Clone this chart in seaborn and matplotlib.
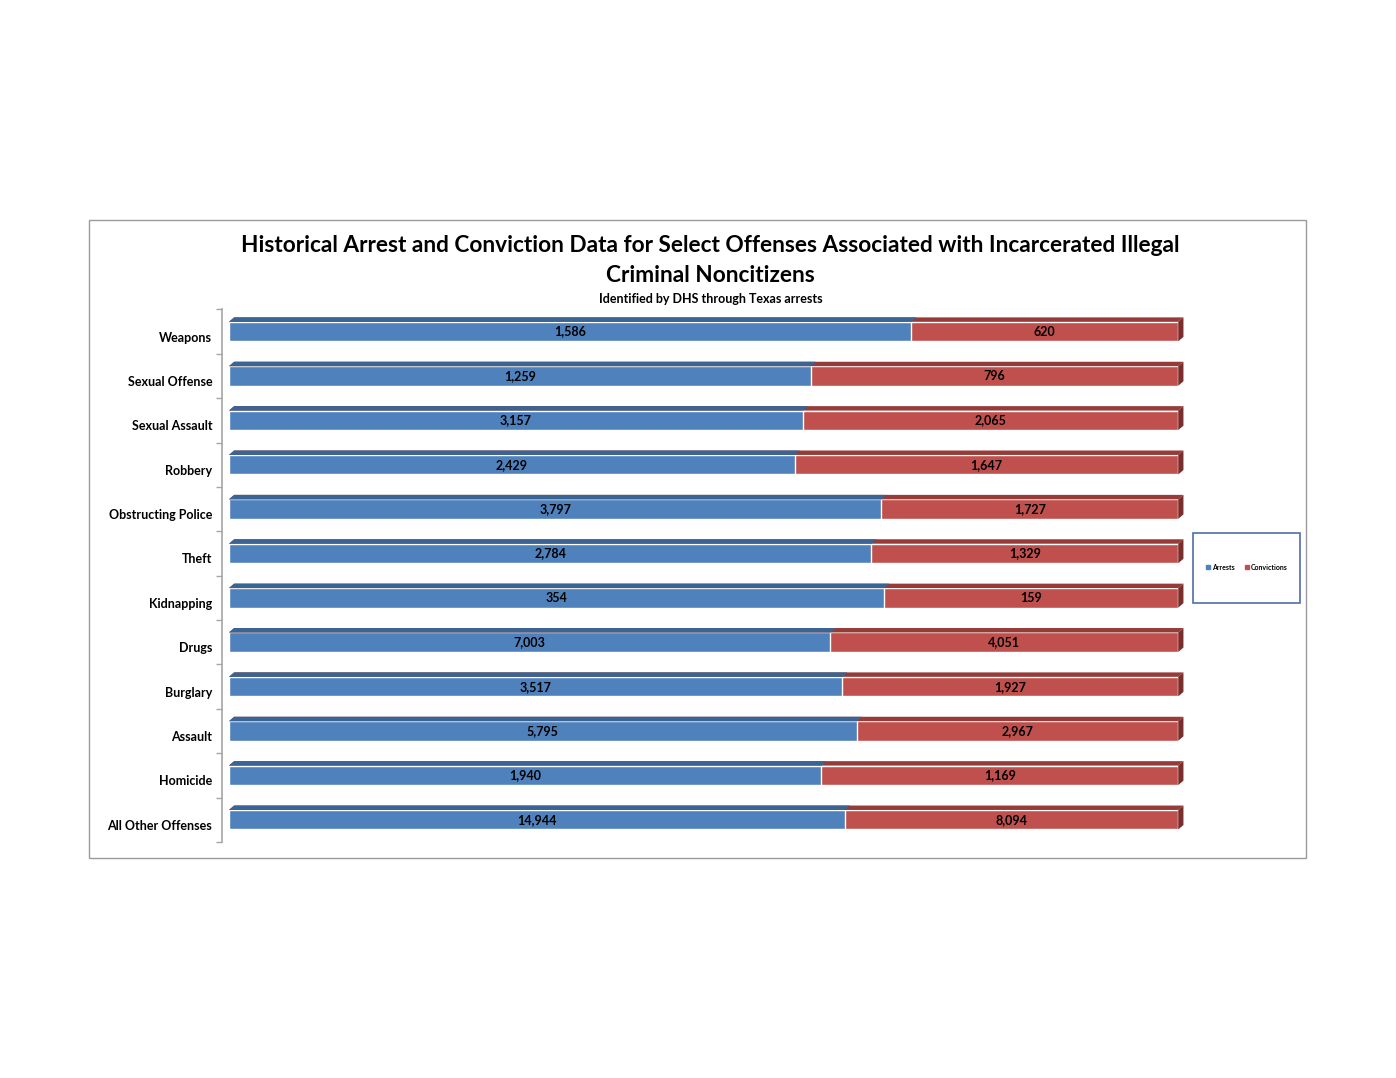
import matplotlib
matplotlib.use("Agg")
import matplotlib.pyplot as plt
import pandas as pd
import seaborn as sns
from matplotlib.patches import Polygon, Rectangle
from matplotlib.ticker import FixedLocator

# Data
offenses = ["Weapons", "Sexual Offense", "Sexual Assault", "Robbery", "Obstructing Police",
            "Theft", "Kidnapping", "Drugs", "Burglary", "Assault", "Homicide", "All Other Offenses"]
arrests = [1586, 1259, 3157, 2429, 3797, 2784, 354, 7003, 3517, 5795, 1940, 14944]
convictions = [620, 796, 2065, 1647, 1727, 1329, 159, 4051, 1927, 2967, 1169, 8094]

BLUE = "#4F81BD"
RED = "#C0504D"
BLUE_TOP = "#3A6494"
RED_TOP = "#963B38"
RED_SIDE = "#7A2E2C"

sns.set_theme(style="white")
plt.rcParams["font.family"] = ["Lato", "DejaVu Sans"]
plt.rcParams["text.color"] = "black"
plt.rcParams["ytick.color"] = "black"
plt.rcParams["font.weight"] = "bold"

df = pd.DataFrame({"Offense": offenses, "Arrests": arrests, "Convictions": convictions})
df["Total"] = df["Arrests"] + df["Convictions"]
df["ArrestPct"] = df["Arrests"] / df["Total"] * 100
df["Full"] = 100.0

fig = plt.figure(figsize=(13.96, 10.78), dpi=100, facecolor="white")
ax = fig.add_axes([0.164, 0.219, 0.68, 0.494])

bar_w = 0.44
sns.barplot(data=df, y="Offense", x="Full", order=offenses, color=RED, width=bar_w,
            saturation=1, ax=ax, orient="h")
sns.barplot(data=df, y="Offense", x="ArrestPct", order=offenses, color=BLUE, width=bar_w,
            saturation=1, ax=ax, orient="h")

ax.set_xlim(0, 100)
ax.set_ylim(len(offenses) - 0.5, -0.5)

# fake 3D top face and end cap, built from the bar patches
dx, dy = 0.55, 0.1
red_patches = ax.containers[0].patches
blue_patches = ax.containers[1].patches
for patches, top in ((red_patches, RED_TOP), (blue_patches, BLUE_TOP)):
    for p in patches:
        x0, y0, w, h = p.get_x(), p.get_y(), p.get_width(), p.get_height()
        poly = Polygon([(x0, y0), (x0 + w, y0), (x0 + w + dx, y0 - dy), (x0 + dx, y0 - dy)],
                       closed=True, facecolor=top, edgecolor="none", clip_on=False, zorder=3)
        ax.add_patch(poly)
for p in red_patches:
    x0, y0, w, h = p.get_x(), p.get_y(), p.get_width(), p.get_height()
    side = Polygon([(x0 + w, y0), (x0 + w + dx, y0 - dy), (x0 + w + dx, y0 + h - dy), (x0 + w, y0 + h)],
                   closed=True, facecolor=RED_SIDE, edgecolor="none", clip_on=False, zorder=3)
    ax.add_patch(side)

# data labels centred in each segment
for i, row in df.iterrows():
    ax.text(row["ArrestPct"] / 2, i, f"{row['Arrests']:,}", ha="center", va="center",
            fontsize=9, fontweight="bold", color="black", zorder=4)
    ax.text((row["ArrestPct"] + 100) / 2, i, f"{row['Convictions']:,}", ha="center", va="center",
            fontsize=9, fontweight="bold", color="black", zorder=4)

ax.set_xlabel("")
ax.set_ylabel("")
ax.set_xticks([])
ax.set_yticks(range(len(offenses)))
ax.set_yticklabels(offenses)
ax.yaxis.set_minor_locator(FixedLocator([i - 0.5 for i in range(len(offenses) + 1)]))
ax.tick_params(axis="y", which="major", length=0, pad=7, labelsize=9)
ax.tick_params(axis="y", which="minor", left=True, length=4, width=1, color="#A6A6A6")
for s in ["top", "right", "bottom"]:
    ax.spines[s].set_visible(False)
ax.spines["left"].set_color("#A6A6A6")
ax.spines["left"].set_linewidth(1.2)
ax.spines["left"].set_position(("outward", 5))

fig.canvas.draw()
for lbl in ax.get_yticklabels():
    lbl.set_fontweight("bold")
    lbl.set_va("top")

# titles
fig.text(0.509, 0.772, "Historical Arrest and Conviction Data for Select Offenses Associated with Incarcerated Illegal",
         ha="center", va="center", fontsize=16.3, fontweight="bold")
fig.text(0.509, 0.744, "Criminal Noncitizens", ha="center", va="center", fontsize=16.3, fontweight="bold")
fig.text(0.509, 0.723, "Identified by DHS through Texas arrests", ha="center", va="center",
         fontsize=9, fontweight="bold")

# outer chart frame
fig.patches.append(Rectangle((89 / 1396, 1 - 858 / 1078), (1306 - 89) / 1396, (858 - 220) / 1078,
                             transform=fig.transFigure, fill=False, edgecolor="#9A9A9A", lw=1))
# legend box
fig.patches.append(Rectangle((1193 / 1396, 1 - 603 / 1078), (1300 - 1193) / 1396, (603 - 533) / 1078,
                             transform=fig.transFigure, fill=False, edgecolor="#4F6FA8", lw=1.2))
handles = [Rectangle((0, 0), 1, 1, color=BLUE), Rectangle((0, 0), 1, 1, color=RED)]
fig.legend(handles, ["Arrests", "Convictions"], loc="center", bbox_to_anchor=(1247 / 1396, 1 - 567 / 1078),
           ncol=2, frameon=False, handlelength=0.5, handleheight=0.5, handletextpad=0.3,
           columnspacing=1.5, prop={"weight": "bold", "size": 5})

fig.savefig("out.png", dpi=100, facecolor="white")
